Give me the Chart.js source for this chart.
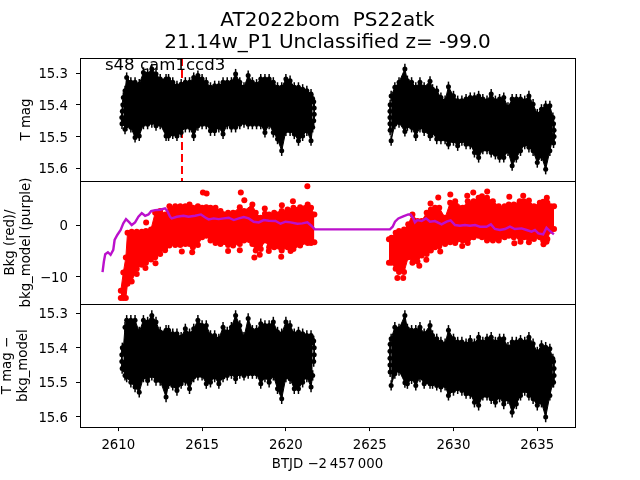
<!DOCTYPE html>
<html>
<head>
<meta charset="utf-8">
<title>AT2022bom</title>
<script src="https://cdn.jsdelivr.net/npm/chart.js@4/dist/chart.umd.js"></script>
<style>
  body { margin: 0; background: #fff; }
</style>
</head>
<body>
<canvas id="lc" width="640" height="480"></canvas>
<script>
// values. The cloud of points is too dense to separate,
// so each band keeps its upper and lower edge at the sampled times.
const xTicks = [2610, 2615, 2620, 2625, 2630, 2635];
const magTicks = [15.3, 15.4, 15.5, 15.6];
const magModelTicks = [15.3, 15.4, 15.5, 15.6];
const bkgTicks = [0, -10];
const eventTime = 2613.8;

const timeA = [2610.3,2610.4,2610.5,2610.75,2611,2611.25,2611.5,2611.75,2612,2612.25,2612.5,2612.85,2613,2613.25,2613.5,2613.75,2614,2614.25,2614.5,2614.75,2615,2615.25,2615.5,2615.75,2616,2616.25,2616.5,2616.75,2617,2617.25,2617.5,2617.75,2618,2618.25,2618.5,2618.75,2619,2619.25,2619.5,2619.75,2620,2620.25,2620.5,2620.75,2621,2621.25,2621.5,2621.6];
const timeB = [2626.28,2626.5,2626.75,2627.1,2627.25,2627.5,2627.75,2628,2628.25,2628.6,2628.75,2629,2629.25,2629.5,2629.7,2630,2630.25,2630.5,2630.75,2631,2631.25,2631.5,2631.75,2632,2632.25,2632.5,2632.75,2633,2633.25,2633.5,2633.75,2634,2634.25,2634.5,2634.75,2635,2635.25,2635.5,2635.75,2635.93];

const magUpperA = [15.377,15.356,15.314,15.329,15.329,15.335,15.298,15.303,15.287,15.303,15.319,15.319,15.319,15.329,15.340,15.335,15.329,15.329,15.314,15.308,15.319,15.329,15.345,15.340,15.340,15.329,15.329,15.329,15.303,15.329,15.345,15.308,15.329,15.335,15.319,15.319,15.319,15.329,15.345,15.345,15.319,15.324,15.345,15.345,15.351,15.356,15.366,15.382];
const magLowerA = [15.450,15.477,15.466,15.471,15.503,15.498,15.461,15.461,15.456,15.466,15.461,15.498,15.498,15.492,15.498,15.487,15.471,15.471,15.498,15.466,15.461,15.461,15.482,15.482,15.471,15.492,15.461,15.471,15.471,15.461,15.456,15.461,15.461,15.461,15.461,15.487,15.461,15.487,15.508,15.545,15.482,15.482,15.492,15.513,15.498,15.482,15.513,15.471];
const magUpperB = [15.372,15.345,15.329,15.287,15.324,15.329,15.345,15.329,15.345,15.326,15.351,15.356,15.377,15.387,15.343,15.372,15.387,15.387,15.382,15.377,15.377,15.372,15.382,15.387,15.366,15.387,15.382,15.377,15.408,15.382,15.382,15.382,15.387,15.372,15.398,15.429,15.414,15.403,15.403,15.440];
const magLowerB = [15.513,15.461,15.456,15.484,15.466,15.471,15.498,15.471,15.482,15.498,15.487,15.508,15.508,15.508,15.524,15.513,15.529,15.513,15.524,15.524,15.550,15.566,15.540,15.540,15.550,15.556,15.566,15.566,15.545,15.592,15.566,15.545,15.524,15.534,15.545,15.582,15.561,15.603,15.545,15.503];
const magEdgeTime = [2610.27,2610.24,2610.21,2610.22,2621.66,2621.69,2621.69,2621.66,2626.22,2626.21,2626.21,2626.21,2626.22,2635.97,2636,2636,2635.97];
const magEdgeValue = [15.40,15.42,15.44,15.46,15.39,15.41,15.43,15.45,15.40,15.42,15.44,15.46,15.48,15.46,15.48,15.50,15.52];

const subUpperA = [15.403,15.340,15.320,15.320,15.320,15.354,15.320,15.325,15.306,15.325,15.354,15.349,15.349,15.359,15.359,15.369,15.345,15.359,15.345,15.320,15.335,15.335,15.364,15.364,15.374,15.340,15.354,15.340,15.306,15.335,15.369,15.315,15.349,15.349,15.330,15.335,15.335,15.325,15.354,15.359,15.325,15.335,15.359,15.354,15.359,15.364,15.364,15.378];
const subLowerA = [15.456,15.480,15.485,15.500,15.514,15.529,15.485,15.495,15.480,15.495,15.495,15.543,15.504,15.509,15.524,15.504,15.495,15.519,15.485,15.480,15.480,15.504,15.500,15.485,15.504,15.485,15.480,15.475,15.490,15.475,15.480,15.475,15.475,15.475,15.504,15.485,15.500,15.480,15.519,15.548,15.485,15.490,15.519,15.519,15.500,15.485,15.514,15.480];
const subUpperB = [15.374,15.340,15.345,15.306,15.345,15.349,15.349,15.340,15.359,15.335,15.364,15.374,15.383,15.388,15.349,15.374,15.383,15.383,15.388,15.378,15.388,15.369,15.383,15.374,15.369,15.383,15.374,15.374,15.398,15.383,15.383,15.378,15.383,15.369,15.388,15.412,15.393,15.398,15.403,15.432];
const subLowerB = [15.509,15.475,15.466,15.501,15.504,15.490,15.509,15.485,15.504,15.504,15.504,15.509,15.514,15.509,15.538,15.524,15.519,15.524,15.533,15.533,15.558,15.567,15.538,15.538,15.548,15.558,15.543,15.563,15.548,15.587,15.563,15.538,15.524,15.538,15.548,15.567,15.558,15.601,15.538,15.500];
const subEdgeTime = [2610.24,2610.21,2610.21,2610.23,2621.66,2621.69,2621.69,2621.66,2626.22,2626.21,2626.21,2626.21,2626.22,2635.97,2636,2636,2635.97];
const subEdgeValue = [15.40,15.42,15.44,15.46,15.38,15.40,15.42,15.44,15.39,15.41,15.43,15.45,15.47,15.44,15.46,15.48,15.50];

const bkgTimeA = [2610.15,2610.3,2610.45,2610.55,2610.8,2611.1,2611.4,2611.65,2611.95,2612.2,2612.5,2612.8,2613.05,2613.4,2613.7,2614,2614.25,2614.45,2614.75,2615,2615.25,2615.5,2615.8,2616.1,2616.55,2616.85,2617.25,2617.5,2618,2618.2,2618.5,2618.75,2619,2619.3,2619.75,2620.1,2620.45,2620.85,2621.3,2621.5,2621.7];
const bkgUpperA = [-12.69,-9.17,-6.28,-1.48,-1.28,-1.28,-1.28,-1.16,-0.84,2.37,2.69,2.05,3.65,3.65,3.65,3.65,3.97,3.33,3.65,3.33,3.46,3.33,3.33,2.69,2.37,2.37,3.46,2.69,3.97,2.37,1.41,2.18,2.05,2.37,2.69,3.01,3.33,3.46,3.97,3.33,2.05];
const bkgLowerA = [-14.10,-14.10,-14.10,-11.34,-10.90,-8.46,-7.69,-7.31,-6.67,-6.22,-5.58,-4.29,-3.97,-3.85,-3.85,-3.65,-3.65,-4.29,-3.85,-2.37,-2.05,-3.01,-3.46,-3.65,-3.85,-3.97,-3.65,-3.01,-3.65,-4.94,-4.62,-3.01,-4.29,-4.29,-4.94,-4.29,-4.62,-3.97,-3.46,-3.46,-3.33];
const bkgTimeB = [2626.15,2626.3,2626.55,2626.75,2627.05,2627.3,2627.55,2627.85,2628.1,2628.4,2628.65,2628.9,2629.15,2629.5,2629.8,2630.1,2630.55,2630.85,2631.2,2631.5,2631.7,2632,2632.35,2632.7,2633.05,2633.3,2633.6,2633.95,2634.2,2634.5,2634.8,2635.15,2635.35,2635.6,2635.8,2636];
const bkgUpperB = [-2.76,-2.44,-1.48,-1.16,-0.84,0.13,2.05,0.77,0.77,2.37,3.01,3.33,3.33,1.41,4.29,4.61,3.33,4.61,4.61,5.26,5.58,5.26,4.61,3.65,3.65,3.97,3.97,4.61,4.61,4.74,3.65,4.29,4.49,4.29,3.65,3.65];
const bkgLowerB = [-7.31,-7.31,-8.46,-9.10,-9.10,-6.22,-7.31,-7.05,-5.90,-5.58,-4.94,-4.29,-4.10,-3.65,-3.33,-3.46,-3.01,-3.46,-2.37,-2.05,-2.37,-3.01,-3.01,-3.01,-2.37,-2.05,-2.37,-2.37,-2.37,-3.33,-2.69,-2.37,-3.01,-2.69,-1.09,-0.77];

// isolated red dots that stand clear of the band
const bkgDotTime = [2615.05,2615.27,2617.31,2621.28,2617.52,2620.42,2618.74,2619.76,2611.66,2612.22,2611.62,2611.10,2613.79,2614.41,2616.55,2617.25,2612.79,2618.12,2618.44,2619.72,2618.98,2620.28,2629.09,2629.81,2630.82,2631.18,2632.01,2633.33,2634.16,2635.57,2629.21,2630.52,2627.96,2628.38,2633.63,2634.00,2635.37,2635.55,2627.0,2626.65,2628.63];
const bkgDotValue = [6.28,6.09,6.28,7.50,4.81,4.62,3.21,3.85,0.51,-7.37,-8.33,-9.49,-5.13,-5.26,-5.0,-4.87,-4.87,-6.28,-5.77,-6.15,-5.0,-5.0,5.32,5.90,5.64,6.28,6.47,5.45,5.64,5.26,-5.13,-4.04,-7.88,-6.73,-3.53,-3.21,-3.72,-3.21,-10.26,-10.26,4.17];

const modelTime = [2609.06,2609.14,2609.22,2609.38,2609.54,2609.70,2609.78,2609.94,2610.14,2610.30,2610.46,2610.66,2610.80,2611.00,2611.20,2611.40,2611.60,2611.80,2611.96,2612.20,2612.50,2612.79,2612.93,2613.09,2613.19,2613.49,2613.89,2614.19,2614.59,2614.93,2615.19,2615.39,2615.69,2615.99,2616.29,2616.59,2616.89,2617.19,2617.49,2617.78,2618.08,2618.38,2618.68,2618.98,2619.38,2619.68,2619.98,2620.28,2620.68,2620.98,2621.28,2621.52,2621.72,2626.21,2626.37,2626.51,2626.71,2627.00,2627.30,2627.44,2627.60,2627.70,2627.84,2628.10,2628.36,2628.60,2628.89,2629.29,2629.59,2629.83,2630.09,2630.38,2630.68,2630.98,2631.28,2631.58,2631.97,2632.23,2632.47,2632.77,2633.07,2633.37,2633.66,2634.06,2634.36,2634.66,2634.86,2635.06,2635.35,2635.55,2635.75,2635.99];
const modelValue = [-9.10,-7.05,-5.64,-5.26,-5.77,-4.81,-2.89,-1.92,-0.96,0.32,1.15,0.51,0,0.51,1.60,2.31,1.79,2.05,2.69,2.88,2.95,3.21,2.69,1.60,1.28,1.60,1.79,1.60,1.79,2.05,1.47,1.09,1.28,1.15,1.28,1.41,0.96,1.28,1.54,1.28,0.64,0.51,0.96,0.83,0.77,0.26,0.64,0.51,0.26,0.32,0.51,-0.13,-0.83,-0.83,-0.32,0.64,1.28,1.67,2.05,2.05,1.28,0.51,0.96,0.77,1.28,0.64,0.77,0.13,0.64,0.90,0,-0.13,0,-0.13,0,-0.32,-0.32,0.13,-0.77,-0.96,-0.77,-0.32,-0.77,-0.64,-0.96,-1.28,-0.96,-1.60,-1.80,-0.51,-1.15,-1.80];

const RED = '#ff0000';
const PURPLE = '#bb10cc';
const magRange = [15.2526, 15.64];
const bkgRange = [-15.28, 8.51];
const subRange = [15.273, 15.63];

function pts(xs, ys) {
    return xs.map((x, i) => ({ x: x, y: ys[i] }));
}

// two edge lines with the space between them filled
function band(axis, xs, upper, lower, color, radius, whisker) {
    const common = {
        yAxisID: axis,
        borderColor: color,
        borderWidth: 1,
        pointBackgroundColor: color,
        pointBorderWidth: 0,
        pointRadius: radius,
        tension: 0,
        order: 2,
        whisker: whisker
    };
    return [
        Object.assign({ data: pts(xs, upper), fill: '+1', backgroundColor: color }, common),
        Object.assign({ data: pts(xs, lower), fill: false }, common)
    ];
}

function dots(axis, xs, ys, color, radius, whisker) {
    return { data: pts(xs, ys), yAxisID: axis, showLine: false, pointBackgroundColor: color, pointBorderWidth: 0, pointRadius: radius, order: 1, whisker: whisker };
}

const datasets = [
    // the purple model goes on top of the red dots
    { data: pts(modelTime, modelValue), yAxisID: 'yBkg', borderColor: PURPLE, borderWidth: 2.4, pointRadius: 0, tension: 0, fill: false, order: 0 },
    dots('yBkg', bkgDotTime, bkgDotValue, RED, 3, 0),
    ...band('yBkg', bkgTimeA, bkgUpperA, bkgLowerA, RED, 3, 0),
    ...band('yBkg', bkgTimeB, bkgUpperB, bkgLowerB, RED, 3, 0),
    dots('yMag', magEdgeTime, magEdgeValue, '#000', 2.5, 0.016),
    ...band('yMag', timeA, magUpperA, magLowerA, '#000', 2.5, 0.016),
    ...band('yMag', timeB, magUpperB, magLowerB, '#000', 2.5, 0.016),
    dots('ySub', subEdgeTime, subEdgeValue, '#000', 2.5, 0.015),
    ...band('ySub', timeA, subUpperA, subLowerA, '#000', 2.5, 0.015),
    ...band('ySub', timeB, subUpperB, subLowerB, '#000', 2.5, 0.015),
    { data: [{ x: eventTime, y: magRange[0] }, { x: eventTime, y: magRange[1] }], yAxisID: 'yMag', borderColor: RED, borderWidth: 2, borderDash: [8, 4], pointRadius: 0, fill: false, order: 5 }
];

// error bars on the black points, frame of the panels, and the sector label
const panelPlugin = {
    id: 'panelPlugin',
    afterDatasetsDraw(chart) {
        const ctx = chart.ctx;
        ctx.save();
        ctx.strokeStyle = '#000';
        ctx.lineWidth = 1.5;
        chart.data.datasets.forEach((ds, i) => {
            if (!ds.whisker) return;
            const scale = chart.scales[ds.yAxisID];
            const meta = chart.getDatasetMeta(i);
            meta.data.forEach((p, j) => {
                const v = ds.data[j].y;
                ctx.beginPath();
                ctx.moveTo(p.x, scale.getPixelForValue(v - ds.whisker));
                ctx.lineTo(p.x, scale.getPixelForValue(v + ds.whisker));
                ctx.stroke();
            });
        });
        ctx.restore();

        const area = chart.chartArea;
        ctx.save();
        ctx.strokeStyle = '#000';
        ctx.lineWidth = 1;
        ['yMag', 'yBkg', 'ySub'].forEach(id => {
            const s = chart.scales[id];
            const top = Math.round(s.top);
            const bottom = Math.round(s.bottom);
            const left = Math.round(area.left);
            ctx.strokeRect(left + 0.5, top + 0.5, Math.round(area.right) - left, bottom - top);
        });
        ctx.fillStyle = '#000';
        ctx.font = '16.6px "DejaVu Sans"';
        ctx.textBaseline = 'alphabetic';
        ctx.fillText('s48 cam1ccd3', chart.scales.x.getPixelForValue(2609.2), chart.scales.yMag.getPixelForValue(15.29));
        ctx.restore();
    }
};

function yScale(range, ticks, label, reverse, titleTop) {
    return {
        type: 'linear',
        position: 'left',
        stack: 'panels',
        stackWeight: 1,
        min: range[0],
        max: range[1],
        reverse: reverse,
        afterBuildTicks: s => { s.ticks = ticks.map(v => ({ value: v })); },
        afterFit: s => { s.width = 80; },
        ticks: {
            autoSkip: false,
            padding: 8,
            labelOffset: 1.5,
            maxRotation: 0,
            font: { size: 13.3 },
            callback: v => (v < 0 ? '\u2212' + Math.abs(v) : (Number.isInteger(v) ? String(v) : v.toFixed(1)))
        },
        grid: { drawOnChartArea: false, drawTicks: true, tickLength: 4, color: '#000' },
        border: { display: false },
        title: { display: true, text: label, font: { size: 13.3 }, padding: { top: titleTop, bottom: 0 }, color: '#000' }
    };
}

Chart.defaults.font.family = '"DejaVu Sans"';
Chart.defaults.color = '#000';

new Chart(document.getElementById('lc'), {
    type: 'line',
    data: { datasets: datasets },
    plugins: [panelPlugin],
    options: {
        responsive: false,
        animation: false,
        parsing: { xAxisKey: 'x', yAxisKey: 'y' },
        layout: { padding: { top: 0, left: 0, right: 65, bottom: 7 } },
        plugins: {
            legend: { display: false },
            tooltip: { enabled: false },
            title: {
                display: true,
                fullSize: false,
                text: ['AT2022bom  PS22atk', '21.14w_P1 Unclassified z= -99.0'],
                color: '#000',
                font: { size: 20, weight: 'normal', lineHeight: 1.1 },
                padding: { top: 10, bottom: 4 }
            }
        },
        scales: {
            x: {
                type: 'linear',
                position: 'bottom',
                min: 2607.715,
                max: 2637.25,
                afterBuildTicks: s => { s.ticks = xTicks.map(v => ({ value: v })); },
                ticks: { autoSkip: false, maxRotation: 0, padding: 6, font: { size: 13.3 }, callback: v => String(v) },
                grid: { drawOnChartArea: false, drawTicks: true, tickLength: 4, color: '#000' },
                border: { display: false },
                title: { display: true, text: 'BTJD \u22122\u2009457\u2009000', font: { size: 13.3 }, padding: { top: -2, bottom: 0 }, color: '#000' }
            },
            ySub: yScale(subRange, magModelTicks, ['T mag \u2212', 'bkg_model'], true, 0),
            yBkg: yScale(bkgRange, bkgTicks, ['Bkg (red)/', 'bkg_model (purple)'], false, 3),
            yMag: yScale(magRange, magTicks, 'T mag', true, 19)
        }
    }
});
</script>
</body>
</html>
